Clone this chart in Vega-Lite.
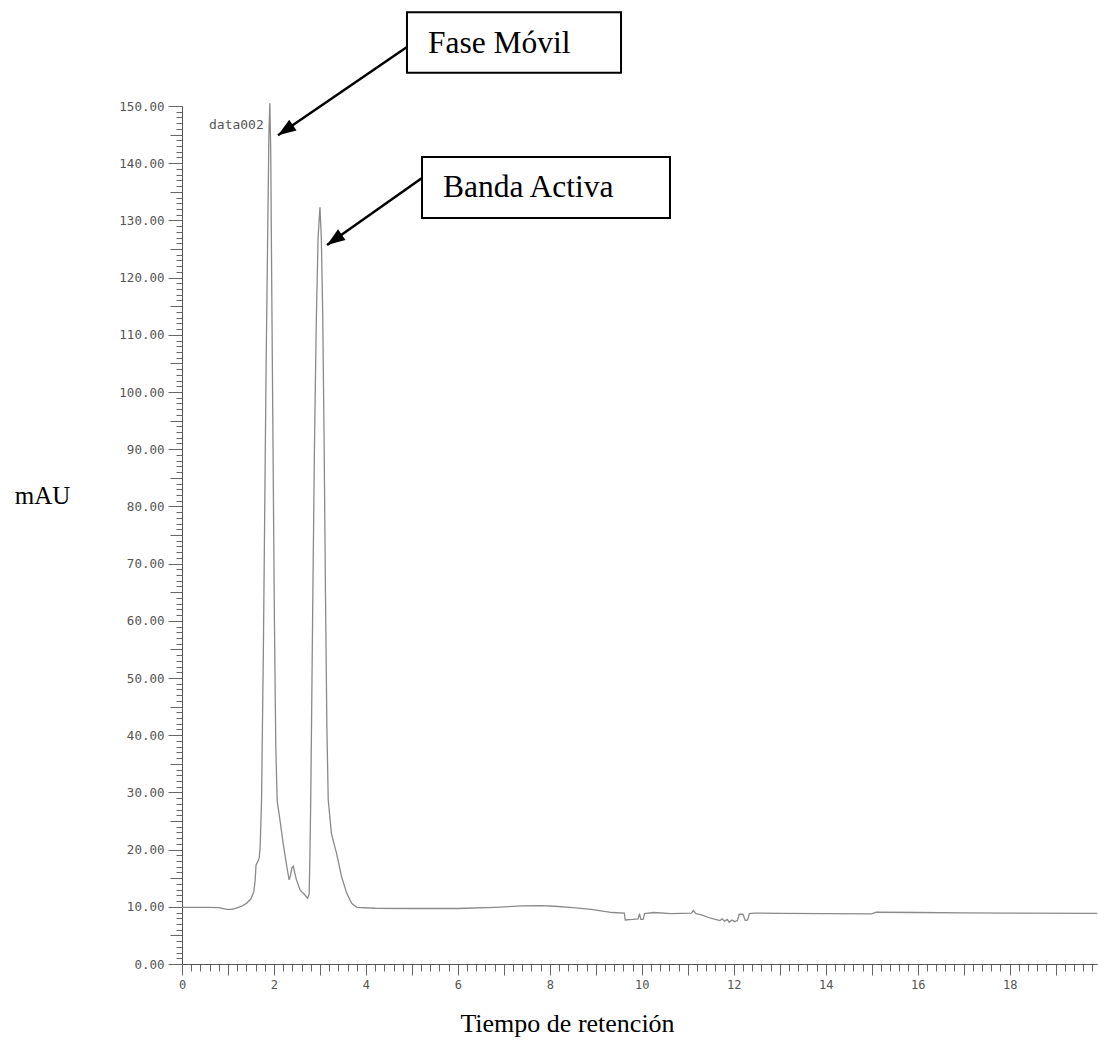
{
  "$schema": "https://vega.github.io/schema/vega-lite/v6.json",
  "width": 915,
  "height": 858,
  "autosize": {"type": "none"},
  "padding": {"left": 182, "top": 106, "right": 1, "bottom": 76},
  "background": "white",
  "config": {"view": {"stroke": null}},
  "datasets": {
    "trace": [
      {"t": 0, "v": 9.9}, {"t": 0.3, "v": 9.9}, {"t": 0.6, "v": 9.9}, {"t": 0.8, "v": 9.85}, {"t": 0.9, "v": 9.7},
      {"t": 0.98, "v": 9.55}, {"t": 1.08, "v": 9.55}, {"t": 1.18, "v": 9.75}, {"t": 1.3, "v": 10.1}, {"t": 1.4, "v": 10.6},
      {"t": 1.5, "v": 11.4}, {"t": 1.56, "v": 12.6}, {"t": 1.59, "v": 14.5}, {"t": 1.61, "v": 17.3}, {"t": 1.65, "v": 17.9},
      {"t": 1.68, "v": 18.6}, {"t": 1.7, "v": 20.5}, {"t": 1.73, "v": 28.7}, {"t": 1.77, "v": 55}, {"t": 1.8, "v": 80},
      {"t": 1.83, "v": 105}, {"t": 1.86, "v": 125}, {"t": 1.89, "v": 145}, {"t": 1.91, "v": 150.5}, {"t": 1.93, "v": 142},
      {"t": 1.95, "v": 120}, {"t": 1.98, "v": 90}, {"t": 2.01, "v": 60}, {"t": 2.04, "v": 38}, {"t": 2.07, "v": 28.5},
      {"t": 2.13, "v": 25.2}, {"t": 2.2, "v": 21.1}, {"t": 2.28, "v": 17.0}, {"t": 2.33, "v": 14.7}, {"t": 2.36, "v": 15.5},
      {"t": 2.39, "v": 16.8}, {"t": 2.42, "v": 17.1}, {"t": 2.45, "v": 16.0}, {"t": 2.49, "v": 14.7}, {"t": 2.57, "v": 12.9},
      {"t": 2.67, "v": 12.1}, {"t": 2.73, "v": 11.5}, {"t": 2.765, "v": 12.2}, {"t": 2.78, "v": 18}, {"t": 2.8, "v": 28.7},
      {"t": 2.84, "v": 60}, {"t": 2.88, "v": 90}, {"t": 2.92, "v": 112}, {"t": 2.96, "v": 127}, {"t": 3.0, "v": 132.3},
      {"t": 3.03, "v": 127}, {"t": 3.06, "v": 114}, {"t": 3.09, "v": 92}, {"t": 3.12, "v": 65}, {"t": 3.15, "v": 42},
      {"t": 3.18, "v": 28.7}, {"t": 3.25, "v": 22.8}, {"t": 3.36, "v": 19.4}, {"t": 3.47, "v": 15.3}, {"t": 3.58, "v": 12.4},
      {"t": 3.69, "v": 10.6}, {"t": 3.8, "v": 9.9}, {"t": 4.2, "v": 9.75}, {"t": 5.0, "v": 9.7}, {"t": 6.0, "v": 9.7},
      {"t": 6.8, "v": 9.9}, {"t": 7.4, "v": 10.15}, {"t": 7.8, "v": 10.2}, {"t": 8.1, "v": 10.1}, {"t": 8.5, "v": 9.85},
      {"t": 8.9, "v": 9.55}, {"t": 9.36, "v": 9.0}, {"t": 9.62, "v": 8.9}, {"t": 9.64, "v": 7.7}, {"t": 9.8, "v": 7.8},
      {"t": 9.92, "v": 7.9}, {"t": 9.95, "v": 8.8}, {"t": 9.98, "v": 7.8}, {"t": 10.03, "v": 7.8}, {"t": 10.06, "v": 8.8},
      {"t": 10.26, "v": 9.0}, {"t": 10.64, "v": 8.8}, {"t": 11.08, "v": 8.9}, {"t": 11.12, "v": 9.35}, {"t": 11.18, "v": 8.8},
      {"t": 11.3, "v": 8.6}, {"t": 11.5, "v": 8.0}, {"t": 11.6, "v": 7.8}, {"t": 11.7, "v": 7.6}, {"t": 11.75, "v": 7.9},
      {"t": 11.8, "v": 7.5}, {"t": 11.86, "v": 7.8}, {"t": 11.9, "v": 7.3}, {"t": 11.96, "v": 7.7}, {"t": 12.02, "v": 7.4},
      {"t": 12.08, "v": 7.6}, {"t": 12.12, "v": 8.7}, {"t": 12.2, "v": 8.7}, {"t": 12.25, "v": 7.6}, {"t": 12.3, "v": 7.7},
      {"t": 12.34, "v": 8.8}, {"t": 12.45, "v": 8.9}, {"t": 13.0, "v": 8.85}, {"t": 14.0, "v": 8.8}, {"t": 15.0, "v": 8.75},
      {"t": 15.1, "v": 9.05}, {"t": 16.0, "v": 9.0}, {"t": 17.0, "v": 8.95}, {"t": 18.0, "v": 8.9}, {"t": 19.9, "v": 8.85}
    ],
    "boxes": [
      {"label": "Fase Móvil", "t": 4.893, "t2": 9.548, "v": 166.4, "v2": 155.8, "tx": 5.35, "ty": 159.2},
      {"label": "Banda Activa", "t": 5.22, "t2": 10.613, "v": 141.1, "v2": 130.4, "tx": 5.676, "ty": 134.1}
    ],
    "arrows": [
      {"label": "Fase Móvil", "t": 4.893, "v": 160.3, "t2": 2.088, "v2": 144.9},
      {"label": "Banda Activa", "t": 5.22, "v": 137.4, "t2": 3.154, "v2": 125.7}
    ],
    "tags": [
      {"label": "data002", "t": 0.587, "v": 146.7}
    ]
  },
  "layer": [
    {
      "data": {"name": "trace"},
      "mark": {"type": "line", "color": "#8a8a8a", "strokeWidth": 1.3},
      "encoding": {
        "x": {
          "field": "t", "type": "quantitative",
          "scale": {"domain": [0, 19.9], "nice": false, "zero": false},
          "axis": {
            "title": "Tiempo de retención",
            "tickCount": 100,
            "labelExpr": "abs(datum.value / 2 - round(datum.value / 2)) < 0.001 ? format(datum.value, 'd') : ''",
            "labelOverlap": false,
            "labelFlush": false,
            "labelFont": "DejaVu Sans Mono",
            "labelFontSize": 12,
            "labelColor": "#555555",
            "labelPadding": 4,
            "tickSize": {"condition": {"test": "abs(datum.value - round(datum.value)) < 0.001", "value": 11}, "value": 7},
            "tickColor": "#666666",
            "domainColor": "#555555",
            "grid": false,
            "titleFont": "Liberation Serif",
            "titleFontSize": 26,
            "titleFontWeight": "normal",
            "titleColor": "#000000",
            "titleX": 385,
            "titleY": 67,
            "titleAlign": "center",
            "titleBaseline": "alphabetic"
          }
        },
        "y": {
          "field": "v", "type": "quantitative",
          "scale": {"domain": [0, 150], "nice": false},
          "axis": {
            "title": "mAU",
            "tickCount": 150,
            "labelExpr": "datum.value % 10 === 0 ? format(datum.value, '.2f') : ''",
            "labelOverlap": false,
            "labelFlush": false,
            "labelFont": "DejaVu Sans Mono",
            "labelFontSize": 12.5,
            "labelColor": "#555555",
            "labelPadding": 4,
            "tickSize": {"condition": [{"test": "datum.value % 10 === 0", "value": 14}, {"test": "datum.value % 5 === 0", "value": 12}], "value": 6},
            "tickColor": "#666666",
            "domainColor": "#555555",
            "grid": false,
            "titleAngle": 0,
            "titleFont": "Liberation Serif",
            "titleFontSize": 25,
            "titleFontWeight": "normal",
            "titleColor": "#000000",
            "titleX": -140,
            "titleY": 397,
            "titleAlign": "center",
            "titleBaseline": "alphabetic"
          }
        }
      }
    },
    {
      "data": {"name": "arrows"},
      "mark": {"type": "rule", "color": "black", "strokeWidth": 2.5},
      "encoding": {
        "x": {"field": "t", "type": "quantitative"},
        "x2": {"field": "t2"},
        "y": {"field": "v", "type": "quantitative"},
        "y2": {"field": "v2"}
      }
    },
    {
      "data": {"name": "arrows"},
      "transform": [{"filter": "datum.label === 'Fase Móvil'"}],
      "mark": {"type": "point", "shape": "M0,0L-0.36,1L0.36,1Z", "size": 1296, "filled": true, "color": "black", "opacity": 1, "angle": 235.7},
      "encoding": {
        "x": {"field": "t2", "type": "quantitative"},
        "y": {"field": "v2", "type": "quantitative"}
      }
    },
    {
      "data": {"name": "arrows"},
      "transform": [{"filter": "datum.label === 'Banda Activa'"}],
      "mark": {"type": "point", "shape": "M0,0L-0.36,1L0.36,1Z", "size": 1296, "filled": true, "color": "black", "opacity": 1, "angle": 234.9},
      "encoding": {
        "x": {"field": "t2", "type": "quantitative"},
        "y": {"field": "v2", "type": "quantitative"}
      }
    },
    {
      "data": {"name": "boxes"},
      "mark": {"type": "rect", "fill": "white", "stroke": "black", "strokeWidth": 2},
      "encoding": {
        "x": {"field": "t", "type": "quantitative"},
        "x2": {"field": "t2"},
        "y": {"field": "v", "type": "quantitative"},
        "y2": {"field": "v2"}
      }
    },
    {
      "data": {"name": "boxes"},
      "mark": {"type": "text", "font": "Liberation Serif", "fontSize": 31.5, "align": "left", "baseline": "alphabetic", "color": "black"},
      "encoding": {
        "x": {"field": "tx", "type": "quantitative"},
        "y": {"field": "ty", "type": "quantitative"},
        "text": {"field": "label"}
      }
    },
    {
      "data": {"name": "tags"},
      "mark": {"type": "text", "font": "DejaVu Sans Mono", "fontSize": 13, "align": "left", "baseline": "middle", "color": "#555555"},
      "encoding": {
        "x": {"field": "t", "type": "quantitative"},
        "y": {"field": "v", "type": "quantitative"},
        "text": {"field": "label"}
      }
    }
  ]
}
